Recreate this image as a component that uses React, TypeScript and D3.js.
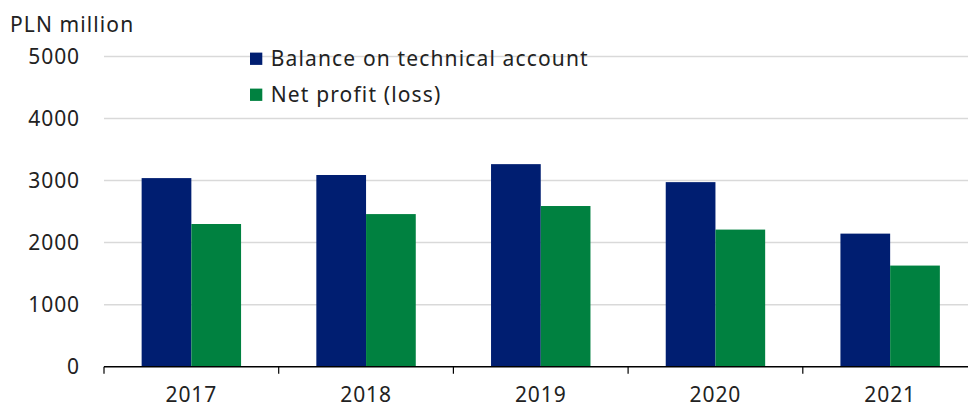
import React from "react";
import * as d3 from "d3";

const categories = ["2017", "2018", "2019", "2020", "2021"];
const seriesNames = ["Balance on technical account", "Net profit (loss)"];
const balanceValues = [3040, 3090, 3265, 2975, 2145];
const netProfitValues = [2300, 2460, 2590, 2210, 1630];
const yTicks = [0, 1000, 2000, 3000, 4000, 5000];
const colors = ["#001E71", "#008140"];

const W = 968;
const H = 406;
const FONT = "'Noto Sans', sans-serif";

export default function App() {
  const x0 = 104;
  const bandW = 174.7;
  const x = d3
    .scaleBand<string>()
    .domain(categories)
    .range([x0, x0 + bandW * categories.length])
    .paddingInner(0)
    .paddingOuter(0);
  const inner = d3
    .scaleBand<number>()
    .domain([0, 1])
    .range([0, x.bandwidth()])
    .paddingInner(0)
    .paddingOuter(0.757);
  const y = d3.scaleLinear().domain([0, 5000]).range([366.7, 56.5]);
  const series = [balanceValues, netProfitValues];

  return (
    <svg
      width={W}
      height={H}
      style={{ position: "absolute", left: 0, top: 0, background: "#fff" }}
      fontFamily={FONT}
    >
      {yTicks.map((t) => (
        <g key={t}>
          {t > 0 && (
            <line x1={x0} x2={W} y1={y(t)} y2={y(t)} stroke="#d9d9d9" strokeWidth={1.5} />
          )}
          <text
            x={80}
            y={y(t)}
            dy="0.35em"
            textAnchor="end"
            fontSize={21}
            letterSpacing={0.9}
            fill="#222"
          >
            {t}
          </text>
        </g>
      ))}
      <text x={10} y={25} dy="0.35em" fontSize={21} letterSpacing={1.1} fill="#222">
        PLN million
      </text>
      {categories.map((c, i) => (
        <g key={c}>
          {series.map((vals, s) => (
            <rect
              key={s}
              x={(x(c) as number) + (inner(s) as number)}
              y={y(vals[i])}
              width={inner.bandwidth()}
              height={y(0) - y(vals[i])}
              fill={colors[s]}
            />
          ))}
          <text
            x={(x(c) as number) + x.bandwidth() / 2}
            y={402}
            textAnchor="middle"
            fontSize={21}
            letterSpacing={0.9}
            fill="#222"
          >
            {c}
          </text>
        </g>
      ))}
      <line x1={x0} x2={W} y1={y(0)} y2={y(0)} stroke="#000" strokeWidth={1.5} />
      {categories.map((c) => (
        <line
          key={c}
          x1={x(c) as number}
          x2={x(c) as number}
          y1={y(0)}
          y2={y(0) + 7}
          stroke="#000"
          strokeWidth={1.2}
        />
      ))}
      {seriesNames.map((n, s) => (
        <g key={n} transform={`translate(250, ${58.8 + s * 36})`}>
          <rect x={0} y={-6.2} width={12.3} height={12.3} fill={colors[s]} />
          <text
            x={20.7}
            y={0}
            dy="0.35em"
            fontSize={21}
            letterSpacing={1.15}
            fill="#222"
          >
            {n}
          </text>
        </g>
      ))}
    </svg>
  );
}
